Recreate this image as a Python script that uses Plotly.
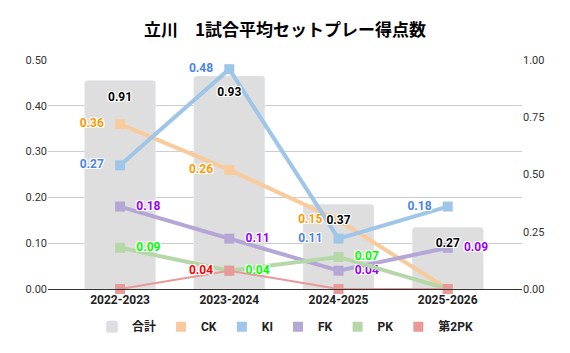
import plotly.graph_objects as go

categories = ["2022-2023", "2023-2024", "2024-2025", "2025-2026"]
total = [0.91, 0.93, 0.37, 0.27]
ck = [0.36, 0.26, 0.15, 0.0]
ki = [0.27, 0.48, 0.11, 0.18]
fk = [0.18, 0.11, 0.04, 0.09]
pk = [0.09, 0.04, 0.07, 0.0]
pk2 = [0.0, 0.04, 0.0, 0.0]

FONT = "Roboto, 'Noto Sans CJK JP', Arial, sans-serif"
HALO = "-1px -1px 0 #fff, 1px -1px 0 #fff, -1px 1px 0 #fff, 1px 1px 0 #fff, 0 -1px 0 #fff, 0 1px 0 #fff, -1px 0 0 #fff, 1px 0 0 #fff"
PAD = "\u00a0\u00a0\u00a0"

def lab(vals, side):
    out = []
    for v in vals:
        if v == 0:
            out.append("")
        elif side == "left":
            out.append(f"{v:.2f}" + PAD)
        else:
            out.append(PAD + f"{v:.2f}")
    return out

fig = go.Figure()
fig.add_trace(go.Bar(
    x=categories, y=total, yaxis="y", name="合計",
    marker=dict(color="#dedede"), width=0.65, showlegend=True,
))

series = [
    ("CK", ck, "#f9cb9c", "#ff9900", "left", 4),
    ("KI", ki, "#9fc5e8", "#4a86e8", "left", 4),
    ("FK", fk, "#b4a7d6", "#9900ff", "right", 4),
    ("PK", pk, "#b6d7a8", "#00ff00", "right", 4),
    ("第2PK", pk2, "#ea9999", "#ff0000", "left", 2),
]
for name, vals, lc, tc, side, lw in series:
    fig.add_trace(go.Scatter(
        x=categories, y=vals, name=name, mode="lines+markers+text", yaxis="y2",
        line=dict(color=lc, width=lw),
        marker=dict(symbol="square", size=10, color=lc),
        text=lab(vals, side), textposition="middle " + side,
        textfont=dict(color=tc, size=12, family=FONT, weight="bold", shadow=HALO),
        showlegend=False, cliponaxis=False,
    ))
    fig.add_trace(go.Scatter(
        x=[None], y=[None], name=name, mode="markers", yaxis="y2",
        marker=dict(symbol="square", size=10, color=lc), showlegend=True,
    ))

# total labels on top layer (same scale as bars)
fig.add_trace(go.Scatter(
    x=categories, y=total, yaxis="y3", mode="markers+text",
    marker=dict(size=16, opacity=0),
    text=[f"{v:.2f}" for v in total], textposition="bottom center",
    textfont=dict(color="#000", size=12, family=FONT, weight="bold", shadow=HALO),
    showlegend=False, cliponaxis=False, hoverinfo="skip",
))

fig.update_layout(
    width=570, height=353,
    margin=dict(l=48, r=48, t=60, b=64),
    paper_bgcolor="white", plot_bgcolor="white",
    font=dict(family=FONT, color="#333"),
    title=dict(text="立川　1試合平均セットプレー得点数", x=0.5, xanchor="center", y=0.915, yanchor="middle",
               font=dict(size=17, color="#000", family="'Noto Sans CJK JP', sans-serif", weight="bold")),
    barcornerradius=3,
    xaxis=dict(range=[-0.66, 3.68], showgrid=False, showline=True, linecolor="#333", linewidth=1,
               ticks="", tickfont=dict(size=12, color="#222", weight="bold")),
    yaxis=dict(range=[0, 1], dtick=0.25, tickformat=".2f", side="right",
               showgrid=False, zeroline=False, tickfont=dict(size=11, color="#333")),
    yaxis2=dict(range=[0, 0.5], dtick=0.1, tickformat=".2f", overlaying="y", side="left",
                gridcolor="#cccccc", showline=False, zeroline=False, tickfont=dict(size=11, color="#333")),
    yaxis3=dict(range=[0, 1], overlaying="y", side="right", visible=False, showgrid=False),
    legend=dict(orientation="h", x=0.5, xanchor="center", y=-0.165, yanchor="middle",
                font=dict(size=12, color="#222", weight="bold")),
)

fig.write_html("out.html")
